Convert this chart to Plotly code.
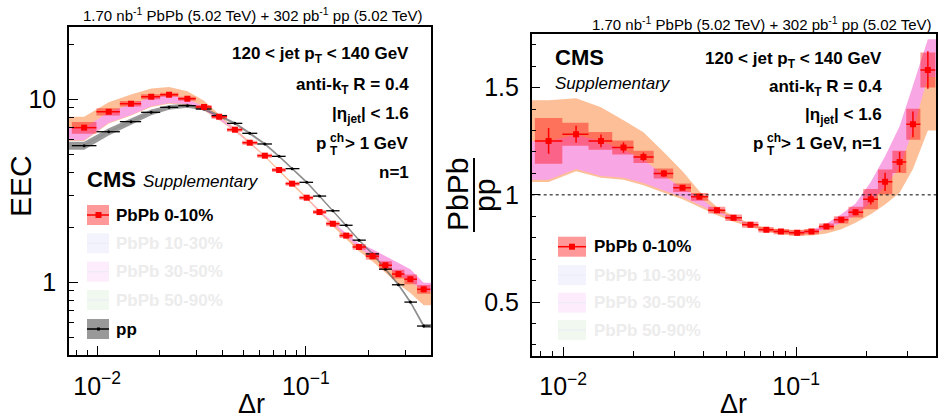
import numpy as np
import plotly.graph_objects as go

# ---------------- data ----------------
dr = [0.00866, 0.01136, 0.01453, 0.01816, 0.02211, 0.02706, 0.03253, 0.03843,
      0.04573, 0.05385, 0.06363, 0.07447, 0.0860, 0.1010, 0.1163, 0.1348,
      0.1562, 0.1798, 0.2090, 0.2407, 0.2779, 0.3170, 0.3673]

eec_pbpb = [7.0, 8.55, 9.46, 10.33, 10.59, 10.07, 9.08, 8.03, 6.82, 5.79, 4.92,
            4.11, 3.46, 2.90, 2.42, 2.09, 1.80, 1.56, 1.39, 1.24, 1.11, 1.04, 0.916]
eec_pbpb_stat_rel = [0.03, 0.02, 0.012, 0.01, 0.008, 0.008, 0.008, 0.008, 0.008, 0.008,
                     0.008, 0.008, 0.008, 0.008, 0.008, 0.008, 0.01, 0.012, 0.015,
                     0.02, 0.025, 0.03, 0.035]
eec_pbpb_sys_rel = [0.075, 0.045, 0.035, 0.03, 0.025, 0.025, 0.025, 0.025, 0.025, 0.025,
                    0.025, 0.025, 0.025, 0.025, 0.025, 0.03, 0.03, 0.035, 0.045, 0.05,
                    0.055, 0.06, 0.055]

eec_pp = [5.58, 6.65, 7.55, 8.49, 9.04, 9.23, 8.85, 8.13, 7.39, 6.52, 5.70, 4.88,
          4.18, 3.52, 2.96, 2.46, 2.05, 1.70, 1.43, 1.18, 0.97, 0.78, 0.577]
eec_pp_stat_rel = [0.01, 0.008, 0.006, 0.005, 0.005, 0.005, 0.005, 0.005, 0.005, 0.005,
                   0.005, 0.005, 0.005, 0.005, 0.005, 0.006, 0.006, 0.007, 0.008, 0.009,
                   0.01, 0.012, 0.015]
eec_pp_sys_rel = [0.05, 0.045, 0.04, 0.035, 0.03, 0.025, 0.02, 0.018, 0.016, 0.015, 0.015,
                  0.015, 0.015, 0.015, 0.015, 0.015, 0.015, 0.015, 0.015, 0.015, 0.018,
                  0.02, 0.025]

ratio = [1.2515, 1.2827, 1.2515, 1.2208, 1.177, 1.0997, 1.0335, 0.9907, 0.9287, 0.8929,
         0.8603, 0.837, 0.8286, 0.823, 0.8286, 0.8519, 0.8836, 0.9194, 0.98, 1.0605,
         1.1537, 1.329, 1.582]
ratio_stat = [0.06, 0.04, 0.03, 0.025, 0.02, 0.015, 0.012, 0.01, 0.008, 0.008, 0.008,
              0.008, 0.008, 0.008, 0.008, 0.008, 0.01, 0.014, 0.025, 0.043, 0.047, 0.06,
              0.087]
ratio_sys = [0.107, 0.054, 0.041, 0.033, 0.029, 0.023, 0.02, 0.018, 0.016, 0.015, 0.014,
             0.013, 0.012, 0.012, 0.012, 0.014, 0.017, 0.025, 0.047, 0.058, 0.052, 0.072,
             0.082]

# model bands, as ratio to pp
orange_hi = [1.441, 1.45, 1.408, 1.348, 1.292, 1.199, 1.11, 1.017, 0.943, 0.901, 0.866,
             0.847, 0.84, 0.836, 0.84, 0.855, 0.885, 0.92, 0.97, 1.05, 1.14, 1.33, 1.55]
orange_lo = [1.06, 1.11, 1.08, 1.07, 1.045, 1.01, 0.98, 0.945, 0.905, 0.875, 0.85, 0.83,
             0.815, 0.809, 0.81, 0.82, 0.84, 0.87, 0.91, 0.955, 1.01, 1.12, 1.30]
pink_hi = [1.25, 1.28, 1.25, 1.21, 1.165, 1.09, 1.03, 0.99, 0.925, 0.893, 0.862, 0.84,
           0.832, 0.828, 0.835, 0.865, 0.91, 0.96, 1.06, 1.18, 1.32, 1.51, 1.725]
pink_lo = [1.07, 1.12, 1.088, 1.08, 1.055, 1.02, 0.99, 0.955, 0.915, 0.885, 0.86, 0.84,
           0.828, 0.822, 0.822, 0.84, 0.87, 0.905, 0.965, 1.04, 1.13, 1.30, 1.55]

x_ticks = [0.01, 0.1]
x_ticktext = ["10<sup>\u22122</sup>", "10<sup>\u22121</sup>"]
x_minor = [0.008, 0.009, 0.02, 0.03, 0.04, 0.05, 0.06, 0.07, 0.08, 0.09, 0.2, 0.3]
yl_ticks = [1, 10]
yl_ticktext = ["1", "10"]
yl_minor = [0.5, 0.6, 0.7, 0.8, 0.9, 2, 3, 4, 5, 6, 7, 8, 9, 20]
yr_ticks = [0.5, 1.0, 1.5]
yr_ticktext = ["0.5", "1", "1.5"]
yr_minor = [0.3, 0.4, 0.6, 0.7, 0.8, 0.9, 1.1, 1.2, 1.3, 1.4, 1.6, 1.7]

legend_labels = ["PbPb 0-10%", "PbPb 10-30%", "PbPb 30-50%", "PbPb 50-90%", "pp"]

# ---------------- styling ----------------
W, H = 939, 419
FONT = "Liberation Sans, Arial, Helvetica, sans-serif"
XR = [-2.135, -0.40]
YL = [-0.397, 1.395]
YR = [0.25, 1.75]
C_ORANGE = "rgb(253,191,152)"
C_PINK = "rgb(248,166,228)"
C_REDBOX = "rgba(255,0,0,0.40)"
C_GREYBOX = "rgba(0,0,0,0.40)"

dr_a = np.array(dr)
lg = np.log10(dr_a)
mids = 0.5 * (lg[1:] + lg[:-1])
edges = 10 ** np.concatenate([[2 * lg[0] - mids[0]], mids, [2 * lg[-1] - mids[-1]]])
lo_e, hi_e = edges[:-1], edges[1:]
xb = [10 ** XR[0]] + list(dr) + [10 ** XR[1]]


def ext(v):
    v = list(v)
    return [v[0]] + v + [v[-1]]


def band(x, lo, hi, color, xa, ya):
    return go.Scatter(x=list(x) + list(x)[::-1], y=list(hi) + list(lo)[::-1],
                      fill="toself", fillcolor=color, mode="lines",
                      line=dict(width=0, color=color), hoverinfo="skip",
                      xaxis=xa, yaxis=ya, showlegend=False)


def boxes(xl, xh, yl, yh, color, xa, ya):
    xs, ys = [], []
    for a, b, c, d in zip(xl, xh, yl, yh):
        xs += [a, b, b, a, a, None]
        ys += [c, c, d, d, c, None]
    return go.Scatter(x=xs, y=ys, fill="toself", fillcolor=color, mode="lines",
                      line=dict(width=0, color=color), hoverinfo="skip",
                      xaxis=xa, yaxis=ya, showlegend=False)


def points(x, y, ey, color, msize, msym, xa, ya, lw=1.5):
    return go.Scatter(x=x, y=y, mode="markers",
                      marker=dict(color=color, size=msize, symbol=msym, line=dict(width=0)),
                      error_x=dict(type="data", symmetric=False, array=list(hi_e - dr_a),
                                   arrayminus=list(dr_a - lo_e), color=color,
                                   thickness=lw, width=0),
                      error_y=dict(type="data", array=ey, color=color, thickness=lw, width=0),
                      xaxis=xa, yaxis=ya, showlegend=False, hoverinfo="skip")


pp = np.array(eec_pp)
pb = np.array(eec_pbpb)
fig = go.Figure()

# ----- left panel -----
ppx = ext(pp)
fig.add_trace(band(xb, np.array(ext(orange_lo)) * ppx, np.array(ext(orange_hi)) * ppx,
                   C_ORANGE, "x", "y"))
fig.add_trace(band(xb, np.array(ext(pink_lo)) * ppx, np.array(ext(pink_hi)) * ppx,
                   C_PINK, "x", "y"))
ppsys = np.array(ext(eec_pp_sys_rel))
fig.add_trace(band(xb, np.array(ppx) * (1 - ppsys), np.array(ppx) * (1 + ppsys),
                   C_GREYBOX, "x", "y"))
fig.add_trace(go.Scatter(x=dr, y=eec_pp, mode="lines", line=dict(color="#8c8c8c", width=1,
                         shape="spline"), xaxis="x", yaxis="y", hoverinfo="skip",
                         showlegend=False))
fig.add_trace(boxes(lo_e, hi_e, pb * (1 - np.array(eec_pbpb_sys_rel)),
                    pb * (1 + np.array(eec_pbpb_sys_rel)), C_REDBOX, "x", "y"))
fig.add_trace(points(dr, eec_pp, list(pp * np.array(eec_pp_stat_rel)), "black", 3,
                     "circle", "x", "y", lw=1.3))
fig.add_trace(points(dr, eec_pbpb, list(pb * np.array(eec_pbpb_stat_rel)), "red", 6,
                     "square", "x", "y"))

# ----- right panel -----
fig.add_trace(band(xb, ext(orange_lo), ext(orange_hi), C_ORANGE, "x2", "y2"))
fig.add_trace(band(xb, ext(pink_lo), ext(pink_hi), C_PINK, "x2", "y2"))
rr = np.array(ratio)
rs = np.array(ratio_sys)
fig.add_trace(boxes(lo_e, hi_e, rr - rs, rr + rs, C_REDBOX, "x2", "y2"))
fig.add_trace(points(dr, ratio, ratio_stat, "red", 6, "square", "x2", "y2"))


def P(x, y):
    return x / W, 1 - y / H


def txt(x, y, s, size, xanchor="center", yanchor="middle", color="black", angle=0, **kw):
    px, py = P(x, y)
    fig.add_annotation(x=px, y=py, xref="paper", yref="paper", text=s, showarrow=False,
                       xanchor=xanchor, yanchor=yanchor, textangle=angle,
                       font=dict(family=FONT, size=size, color=color), **kw)


def B(s):
    return "<b>" + s + "</b>"


shapes = []


def rect(x0, y0, x1, y1, color):
    a0, b0 = P(x0, y0)
    a1, b1 = P(x1, y1)
    shapes.append(dict(type="rect", xref="paper", yref="paper", x0=a0, y0=b0, x1=a1, y1=b1,
                       fillcolor=color, line=dict(width=0), layer="above"))


def seg(x0, y0, x1, y1, color, w):
    a0, b0 = P(x0, y0)
    a1, b1 = P(x1, y1)
    shapes.append(dict(type="line", xref="paper", yref="paper", x0=a0, y0=b0, x1=a1, y1=b1,
                       line=dict(color=color, width=w), layer="above"))


# titles
lumi = "1.70 nb<sup>-1</sup> PbPb (5.02 TeV) + 302 pb<sup>-1</sup> pp (5.02 TeV)"
txt(253, 14, lumi, 15)
txt(934, 23, lumi, 15, xanchor="right")

# left panel labels
XRt = 411
txt(XRt, 55, B("120 &lt; jet p<sub>T</sub> &lt; 140 GeV"), 17, xanchor="right")
txt(XRt, 86, B("anti-k<sub>T</sub> R = 0.4"), 17, xanchor="right")
txt(XRt, 115, B("|\u03b7<sub>jet</sub>| &lt; 1.6"), 17, xanchor="right")
txt(XRt, 143, B("&gt; 1 GeV"), 17, xanchor="right")
txt(328, 143, B("p"), 17, xanchor="right")
txt(327.5, 138, B("ch"), 12, xanchor="left")
txt(327.5, 151, B("T"), 12, xanchor="left")
txt(XRt, 172, B("n=1"), 17, xanchor="right")
txt(85, 179, B("CMS"), 22, xanchor="left")
txt(141, 181, "<i>Supplementary</i>", 17, xanchor="left")

# right panel labels
XRr = 884
txt(553, 57, B("CMS"), 22, xanchor="left")
txt(553, 83, "<i>Supplementary</i>", 17, xanchor="left")
txt(XRr, 60, B("120 &lt; jet p<sub>T</sub> &lt; 140 GeV"), 17, xanchor="right")
txt(XRr, 88, B("anti-k<sub>T</sub> R = 0.4"), 17, xanchor="right")
txt(XRr, 116, B("|\u03b7<sub>jet</sub>| &lt; 1.6"), 17, xanchor="right")
txt(XRr, 143, B("&gt; 1 GeV, n=1"), 17, xanchor="right")
txt(765, 143, B("p"), 17, xanchor="right")
txt(764.5, 138, B("ch"), 12, xanchor="left")
txt(764.5, 151, B("T"), 12, xanchor="left")

# axis titles
txt(20, 186, "EEC", 30, angle=-90)
txt(251, 404, "\u0394r", 27)
txt(733, 404, "\u0394r", 27)
txt(457, 195, "PbPb", 30, angle=-90)
txt(484, 195, "pp", 30, angle=-90)
seg(474, 158, 474, 232, "black", 2)

# legends
fade_box = ["rgba(0,0,0,0)", "rgb(243,243,253)", "rgb(252,236,252)", "rgb(240,248,240)"]
fade_txt = "rgb(236,236,236)"
rows_l = [215, 243.3, 271.7, 300, 329]
rows_r = [246.7, 275, 302.7, 330]
for i, lab in enumerate(legend_labels):
    y = rows_l[i]
    if i == 0:
        rect(87, y - 10, 109, y + 10, "rgb(255,153,153)")
        seg(87, y, 109, y, "red", 1.5)
        rect(95.5, y - 3, 101.5, y + 3, "red")
        txt(114, y, B(lab), 17, xanchor="left")
    elif i == 4:
        rect(87, y - 10, 109, y + 10, "rgb(153,153,153)")
        seg(87, y, 109, y, "black", 1.5)
        rect(97, y - 1.5, 100, y + 1.5, "black")
        txt(114, y, B(lab), 17, xanchor="left")
    else:
        rect(87, y - 10, 109, y + 10, fade_box[i])
        seg(87, y, 109, y, "rgb(235,235,245)", 1)
        txt(114, y, B(lab), 17, xanchor="left", color=fade_txt)
for i, lab in enumerate(legend_labels[:4]):
    y = rows_r[i]
    if i == 0:
        rect(558, y - 10, 586, y + 10, "rgb(255,153,153)")
        seg(558, y, 586, y, "red", 1.5)
        rect(569, y - 3, 575, y + 3, "red")
        txt(592, y, B(lab), 17, xanchor="left")
    else:
        rect(558, y - 10, 586, y + 10, fade_box[i])
        seg(558, y, 586, y, "rgb(235,235,245)", 1)
        txt(592, y, B(lab), 17, xanchor="left", color=fade_txt)

# dashed unity line
shapes.append(dict(type="line", xref="x2 domain", yref="y2", x0=0, x1=1, y0=1, y1=1,
                   line=dict(color="black", width=1, dash="3px,3px"), layer="above"))

axis_common = dict(showline=True, linecolor="black", linewidth=1.5, mirror=True,
                   ticks="inside", ticklen=9, tickwidth=1, tickcolor="black",
                   showgrid=False, zeroline=False,
                   tickfont=dict(family=FONT, size=25, color="black"))
minor_common = dict(ticks="inside", ticklen=5, tickwidth=1, tickcolor="black",
                    showgrid=False)

fig.update_layout(
    width=W, height=H, margin=dict(l=0, r=0, t=0, b=0),
    paper_bgcolor="white", plot_bgcolor="white", showlegend=False,
    shapes=shapes,
    xaxis=dict(type="log", range=XR, domain=[69 / W, 431 / W], anchor="y",
               tickmode="array", tickvals=x_ticks, ticktext=x_ticktext,
               ticklabelstandoff=8,
               minor=dict(tickmode="array", tickvals=x_minor, **minor_common),
               **axis_common),
    yaxis=dict(type="log", range=YL, domain=[1 - 355 / H, 1 - 27 / H], anchor="x",
               tickmode="array", tickvals=yl_ticks, ticktext=yl_ticktext,
               ticklabelstandoff=6,
               minor=dict(tickmode="array", tickvals=yl_minor, **minor_common),
               **axis_common),
    xaxis2=dict(type="log", range=XR, domain=[531.7 / W, 936 / W], anchor="y2",
                tickmode="array", tickvals=x_ticks, ticktext=x_ticktext,
                ticklabelstandoff=8,
                minor=dict(tickmode="array", tickvals=x_minor, **minor_common),
                **axis_common),
    yaxis2=dict(range=YR, domain=[1 - 355.7 / H, 1 - 34 / H], anchor="x2",
                tickmode="array", tickvals=yr_ticks, ticktext=yr_ticktext,
                ticklabelstandoff=6,
                minor=dict(tickmode="array", tickvals=yr_minor, **minor_common),
                **axis_common),
)

fig.write_html("out.html", config={"displayModeBar": False},
               post_script="document.body.style.margin='0px';"
                           "document.body.style.overflow='hidden';")
